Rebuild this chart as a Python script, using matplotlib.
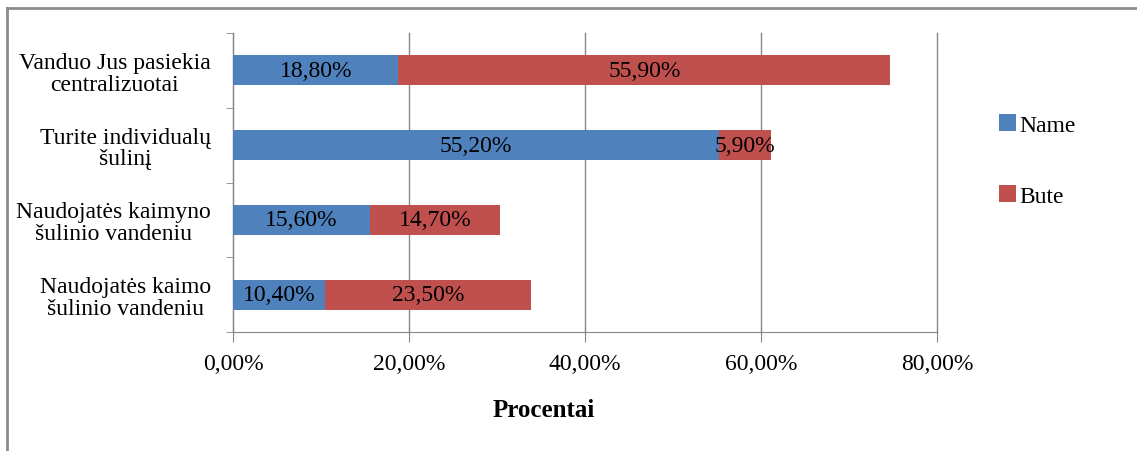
"""
Horizontal stacked bar chart: how water reaches the household (Name / Bute).
"""

import numpy as np
import matplotlib
matplotlib.use('Agg')
import matplotlib.pyplot as plt
from matplotlib.lines import Line2D

categories = ['Vanduo Jus pasiekia\ncentralizuotai',
              'Turite individualų\nšulinį',
              'Naudojatės kaimyno\nšulinio vandeniu',
              'Naudojatės kaimo\nšulinio vandeniu']
name_vals = [18.8, 55.2, 15.6, 10.4]
bute_vals = [55.9, 5.9, 14.7, 23.5]
series_names = ['Name', 'Bute']
xticks = [0, 20, 40, 60, 80]

blue = '#4F81BD'
red = '#C0504D'
grid = '#868686'
serif = ['Liberation Serif', 'DejaVu Serif']

plt.rcParams['font.family'] = serif

fig = plt.figure(figsize=(11.37, 4.52), dpi=100)
ax = fig.add_axes([233/1137, 1 - 333/452, 704/1137, 299/452])

y = np.arange(len(categories))
b1 = ax.barh(y, name_vals, height=0.4, color=blue, label=series_names[0], zorder=3)
b2 = ax.barh(y, bute_vals, left=name_vals, height=0.4, color=red, label=series_names[1], zorder=3)

for bars, vals in ((b1, name_vals), (b2, bute_vals)):
    for bar, v in zip(bars, vals):
        cx = bar.get_x() + bar.get_width()/2
        ax.text(cx, bar.get_y() + bar.get_height()/2, f'{v:.2f}%'.replace('.', ','),
                ha='center', va='center', fontsize=17, zorder=4)

ax.set_ylim(len(categories) - 0.5, -0.5)
ax.set_xlim(0, 80)
ax.set_xticks(xticks)
ax.set_xticklabels([f'{t:.2f}%'.replace('.', ',') for t in xticks], fontsize=17)
ax.set_yticks(y)
ax.set_yticklabels(categories, fontsize=17, multialignment='center', linespacing=1.05)
ax.set_yticks(np.arange(len(categories) + 1) - 0.5, minor=True)
ax.tick_params(axis='y', which='major', length=0, pad=16)
ax.tick_params(axis='y', which='minor', length=5, color=grid)
ax.tick_params(axis='x', length=7, color=grid, pad=8)

ax.grid(axis='x', color=grid, linewidth=1, zorder=0)
for gl in ax.get_xgridlines():
    gl.set_clip_on(False)
for s in ('top', 'right'):
    ax.spines[s].set_visible(False)
for s in ('left', 'bottom'):
    ax.spines[s].set_color(grid)

fig.text(544/1137, 1 - 411/452, 'Procentai', ha='center', va='center',
         fontsize=18, fontweight='bold')

leg = ax.legend(loc='upper left', bbox_to_anchor=(978/1137, 1 - 94/452),
                bbox_transform=fig.transFigure, frameon=False, fontsize=17,
                handlelength=0.7, handleheight=0.7, handletextpad=0.15, labelspacing=2.1)
for t in leg.get_texts():
    t.set_fontfamily('Liberation Serif')

# outer chart frame (top and left edges visible in the crop)
fig.add_artist(Line2D([7/1137, 1], [1 - 9/452, 1 - 9/452], color='#8c8c8c', linewidth=2,
                      transform=fig.transFigure))
fig.add_artist(Line2D([7/1137, 7/1137], [0, 1 - 9/452], color='#8c8c8c', linewidth=2,
                      transform=fig.transFigure))

plt.savefig('out.png', dpi=100)
